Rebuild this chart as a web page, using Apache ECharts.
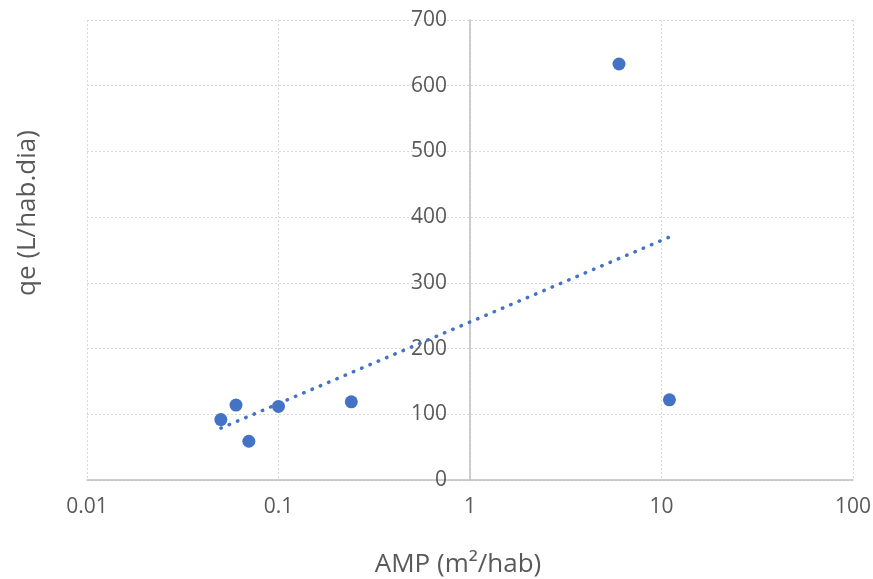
<!DOCTYPE html>
<html>
<head>
<meta charset="utf-8">
<style>
  html, body { margin: 0; padding: 0; background: #fff; }
  #chart { width: 873px; height: 579px; }
</style>
<script src="https://cdn.jsdelivr.net/npm/echarts@6/dist/echarts.min.js"></script>
</head>
<body>
<div id="chart"></div>
<script>
// Área de microdrenagem por habitante vs consumo per capita
const ampValues = [0.05, 0.06, 0.07, 0.1, 0.24, 6, 11];
const qeValues = [92, 114, 59, 112, 119, 633, 122];
const xTickLabels = ['0.01', '0.1', '1', '10', '100'];
const yTickLabels = ['0', '100', '200', '300', '400', '500', '600', '700'];
const xTitle = 'AMP (m²/hab)';
const yTitle = 'qe (L/hab.dia)';

const points = ampValues.map((x, i) => [x, qeValues[i]]);

// Logarithmic trendline y = a ln(x) + b, least squares fit
function logFit(xs, ys) {
  const lx = xs.map(Math.log);
  const n = xs.length;
  const mx = lx.reduce((s, v) => s + v, 0) / n;
  const my = ys.reduce((s, v) => s + v, 0) / n;
  let sxy = 0, sxx = 0;
  for (let i = 0; i < n; i++) {
    sxy += (lx[i] - mx) * (ys[i] - my);
    sxx += (lx[i] - mx) * (lx[i] - mx);
  }
  const a = sxy / sxx;
  return { a, b: my - a * mx };
}
const fit = logFit(ampValues, qeValues);
const xMin = Math.min(...ampValues), xMax = Math.max(...ampValues);
const trend = [xMin, xMax].map(x => [x, fit.a * Math.log(x) + fit.b]);

const textColor = '#595959';
const fontFamily = '"Open Sans", sans-serif';

const chart = echarts.init(document.getElementById('chart'));
chart.setOption({
  animation: false,
  grid: { left: 87, right: 20, top: 20, bottom: 99, containLabel: false, outerBoundsMode: 'none' },
  graphic: [
    {
      type: 'text',
      x: 28,
      y: 213,
      rotation: Math.PI / 2,
      style: {
        text: yTitle,
        fill: textColor,
        font: '26px ' + fontFamily,
        align: 'center',
        verticalAlign: 'middle'
      }
    },
    {
      type: 'text',
      x: 458,
      y: 565,
      style: {
        text: xTitle,
        fill: textColor,
        font: '26px ' + fontFamily,
        align: 'center',
        verticalAlign: 'middle'
      }
    }
  ],
  xAxis: {
    type: 'log',
    logBase: 10,
    min: 0.01,
    max: 100,
    axisLine: { show: true, onZero: false, lineStyle: { color: '#bfbfbf', width: 1.5 } },
    axisTick: { show: false },
    axisLabel: {
      color: textColor, fontSize: 21, fontFamily, margin: 17,
      formatter: (v) => {
        const idx = Math.round(Math.log10(v)) + 2;
        return xTickLabels[idx] !== undefined ? xTickLabels[idx] : '';
      }
    },
    splitLine: { show: true, lineStyle: { color: '#d9d9d9', type: [2, 2], width: 1 } }
  },
  yAxis: {
    type: 'value',
    min: 0,
    max: 700,
    interval: 100,
    position: 'left',
    offset: -383,
    axisLine: { show: true, lineStyle: { color: '#bfbfbf', width: 1.5 } },
    axisTick: { show: false },
    axisLabel: {
      color: textColor, fontSize: 21, fontFamily, margin: 23,
      formatter: (v) => yTickLabels[Math.round(v / 100)]
    },
    splitLine: { show: true, lineStyle: { color: '#d9d9d9', type: [2, 2], width: 1 } }
  },
  series: [
    {
      type: 'line',
      data: trend,
      showSymbol: false,
      symbol: 'none',
      lineStyle: { color: '#4472C4', width: 3.5, type: [0.5, 8.5], cap: 'round' },
      z: 2
    },
    {
      type: 'scatter',
      data: points,
      symbol: 'circle',
      symbolSize: 13,
      itemStyle: { color: '#4472C4', opacity: 1 },
      z: 3
    }
  ]
});
</script>
</body>
</html>
